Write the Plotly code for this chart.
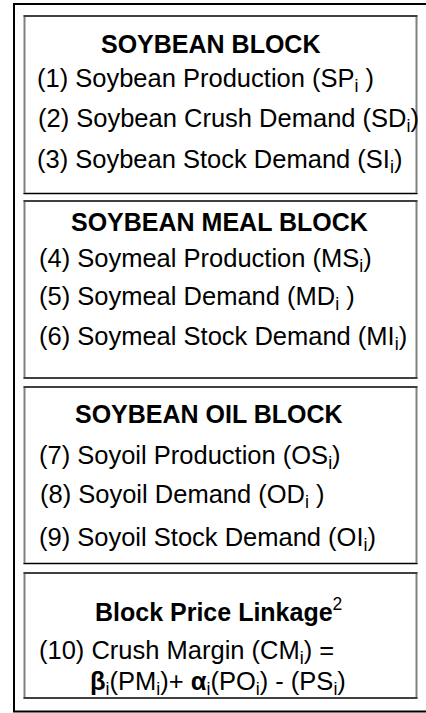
import plotly.graph_objects as go

# block headings and equation lines (text content of the diagram)
block_titles = [
    "SOYBEAN BLOCK",
    "SOYBEAN MEAL BLOCK",
    "SOYBEAN OIL BLOCK",
    "Block Price Linkage<span style='font-weight:normal'><sup>2</sup></span>",
]
block_lines = [
    ["(1) Soybean Production (SP<sub>i</sub> )",
     "(2) Soybean Crush Demand (SD<sub>i</sub>)",
     "(3) Soybean Stock Demand (SI<sub>i</sub>)"],
    ["(4) Soymeal Production (MS<sub>i</sub>)",
     "(5) Soymeal Demand (MD<sub>i</sub> )",
     "(6) Soymeal Stock Demand (MI<sub>i</sub>)"],
    ["(7) Soyoil Production (OS<sub>i</sub>)",
     "(8) Soyoil Demand (OD<sub>i</sub> )",
     "(9) Soyoil Stock Demand (OI<sub>i</sub>)"],
    ["(10) Crush Margin (CM<sub>i</sub>) =",
     "<b>β</b><sub>i</sub>(PM<sub>i</sub>)+ <b>α</b><sub>i</sub>(PO<sub>i</sub>) - (PS<sub>i</sub>)"],
]

# layout of the boxes (pixels, y measured from the top)
W, H = 426, 713
box_left, box_right = 24.5, 416.5
box_tops = [16, 201, 387, 573]
box_bottoms = [193.5, 378, 563.5, 698]
title_x = [210, 219, 209, 218]
title_y = [43.5, 222, 414, 610]
line_x = [[35, 36, 35], [37, 37, 37], [37, 38, 37], [37, 88]]
line_y = [[79.5, 120, 161], [260, 298, 338], [457, 496, 539], [652, 683]]

FONT = "Liberation Sans, Arial, sans-serif"
fig = go.Figure()

shapes = []
# outer frame, right edge falls outside the picture
shapes.append(dict(type="rect", x0=14, x1=440, y0=4, y1=711.5,
                   line=dict(color="black", width=2)))
for top, bot in zip(box_tops, box_bottoms):
    shapes.append(dict(type="rect", x0=box_left, x1=box_right, y0=top, y1=bot,
                       line=dict(color="#808080", width=2)))
    for yy in (top, bot):
        shapes.append(dict(type="line", x0=box_left - 1, x1=box_right + 1, y0=yy, y1=yy,
                           line=dict(color="black", width=1.2)))

annotations = []
for i, t in enumerate(block_titles):
    annotations.append(dict(x=title_x[i], y=title_y[i], text="<b>" + t + "</b>",
                            showarrow=False, xanchor="center", yanchor="middle",
                            font=dict(family=FONT, size=25, color="black")))
    for j, s in enumerate(block_lines[i]):
        annotations.append(dict(x=line_x[i][j], y=line_y[i][j], text=s,
                                showarrow=False, xanchor="left", yanchor="middle",
                                font=dict(family=FONT, size=25.5, color="black")))

fig.update_layout(
    width=W, height=H,
    margin=dict(l=0, r=0, t=0, b=0),
    paper_bgcolor="white", plot_bgcolor="white",
    xaxis=dict(range=[0, W], visible=False, fixedrange=True),
    yaxis=dict(range=[H, 0], visible=False, fixedrange=True),
    shapes=shapes, annotations=annotations,
    showlegend=False,
)
# page body has a default 8px margin, drop it so the figure sits at the corner
fig.write_html("out.html", config={"displayModeBar": False},
               post_script="document.body.style.margin='0';")
